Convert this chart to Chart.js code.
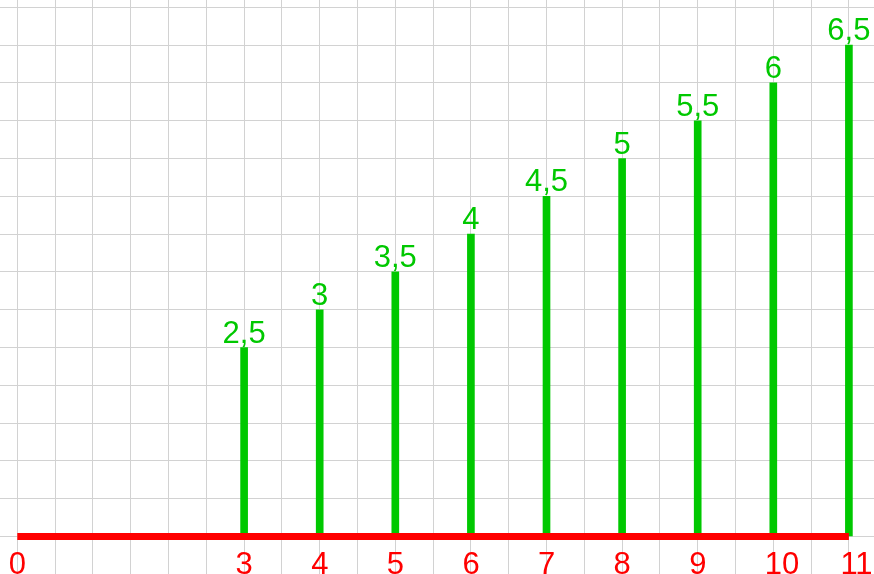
<!DOCTYPE html>
<html>
<head>
<meta charset="utf-8">
<script src="https://cdn.jsdelivr.net/npm/chart.js@4"></script>
<style>
  html, body { margin: 0; padding: 0; background: #ffffff; }
  canvas { display: block; }
</style>
</head>
<body>
<canvas id="chart" width="874" height="574"></canvas>
<script>
// Data
const xValues = [3, 4, 5, 6, 7, 8, 9, 10, 11];
const barValues = [2.5, 3, 3.5, 4, 4.5, 5, 5.5, 6, 6.5];
const barLabels = ['2,5', '3', '3,5', '4', '4,5', '5', '5,5', '6', '6,5'];
const xTickValues = [0, 3, 4, 5, 6, 7, 8, 9, 10, 11];
const xTickLabels = ['0', '3', '4', '5', '6', '7', '8', '9', '10', '11'];
const axisFrom = 0;
const axisTo = 11;

const GREEN = '#00c800';
const RED = '#ff0000';
const FONT = '31px "Liberation Sans", Arial, sans-serif';

// grid every half unit
function halfSteps(from, to) {
    const out = [];
    for (let v = from; v <= to + 1e-9; v += 0.5) out.push({ value: v });
    return out;
}

// Draw value labels above bars and red labels under the axis
const labelPlugin = {
    id: 'labels',
    afterDatasetsDraw(chart) {
        const ctx = chart.ctx;
        const xs = chart.scales.x;
        const ys = chart.scales.y;
        const meta = chart.getDatasetMeta(1);
        ctx.save();
        ctx.font = FONT;
        ctx.textBaseline = 'alphabetic';

        ctx.fillStyle = GREEN;
        ctx.textAlign = 'center';
        meta.data.forEach((bar, i) => {
            ctx.fillText(barLabels[i], bar.x, bar.y - 5);
        });

        ctx.fillStyle = RED;
        ctx.textAlign = 'left';
        const base = ys.getPixelForValue(0);
        xTickValues.forEach((v, i) => {
            ctx.fillText(xTickLabels[i], xs.getPixelForValue(v) - 8.5, base + 37);
        });
        ctx.restore();
    }
};

const ctx = document.getElementById('chart').getContext('2d');
const chart = new Chart(ctx, {
    type: 'bar',
    data: {
        datasets: [{
            type: 'line',
            data: [{ x: axisFrom, y: 0 }, { x: axisTo, y: 0 }],
            borderColor: RED,
            borderWidth: 7,
            borderCapStyle: 'butt',
            pointRadius: 0,
            order: 0
        }, {
            type: 'bar',
            data: xValues.map((x, i) => ({ x: x, y: barValues[i] })),
            backgroundColor: GREEN,
            barThickness: 7,
            order: 1
        }]
    },
    options: {
        responsive: false,
        animation: false,
        layout: { padding: 0 },
        plugins: {
            legend: { display: false },
            tooltip: { enabled: false }
        },
        scales: {
            x: {
                type: 'linear',
                min: -0.229,
                max: 11.332,
                offset: false,
                grid: { offset: false, color: '#d2d2d2', lineWidth: 1, drawTicks: false },
                border: { display: false },
                ticks: { display: false },
                afterBuildTicks: s => { s.ticks = halfSteps(0, 11.5); },
                afterFit: s => { s.height = 0; }
            },
            y: {
                type: 'linear',
                min: -0.496,
                max: 7.097,
                grid: { color: '#d2d2d2', lineWidth: 1, drawTicks: false },
                border: { display: false },
                ticks: { display: false },
                afterBuildTicks: s => { s.ticks = halfSteps(-0.5, 7); },
                afterFit: s => { s.width = 0; }
            }
        }
    },
    plugins: [labelPlugin]
});
</script>
</body>
</html>
